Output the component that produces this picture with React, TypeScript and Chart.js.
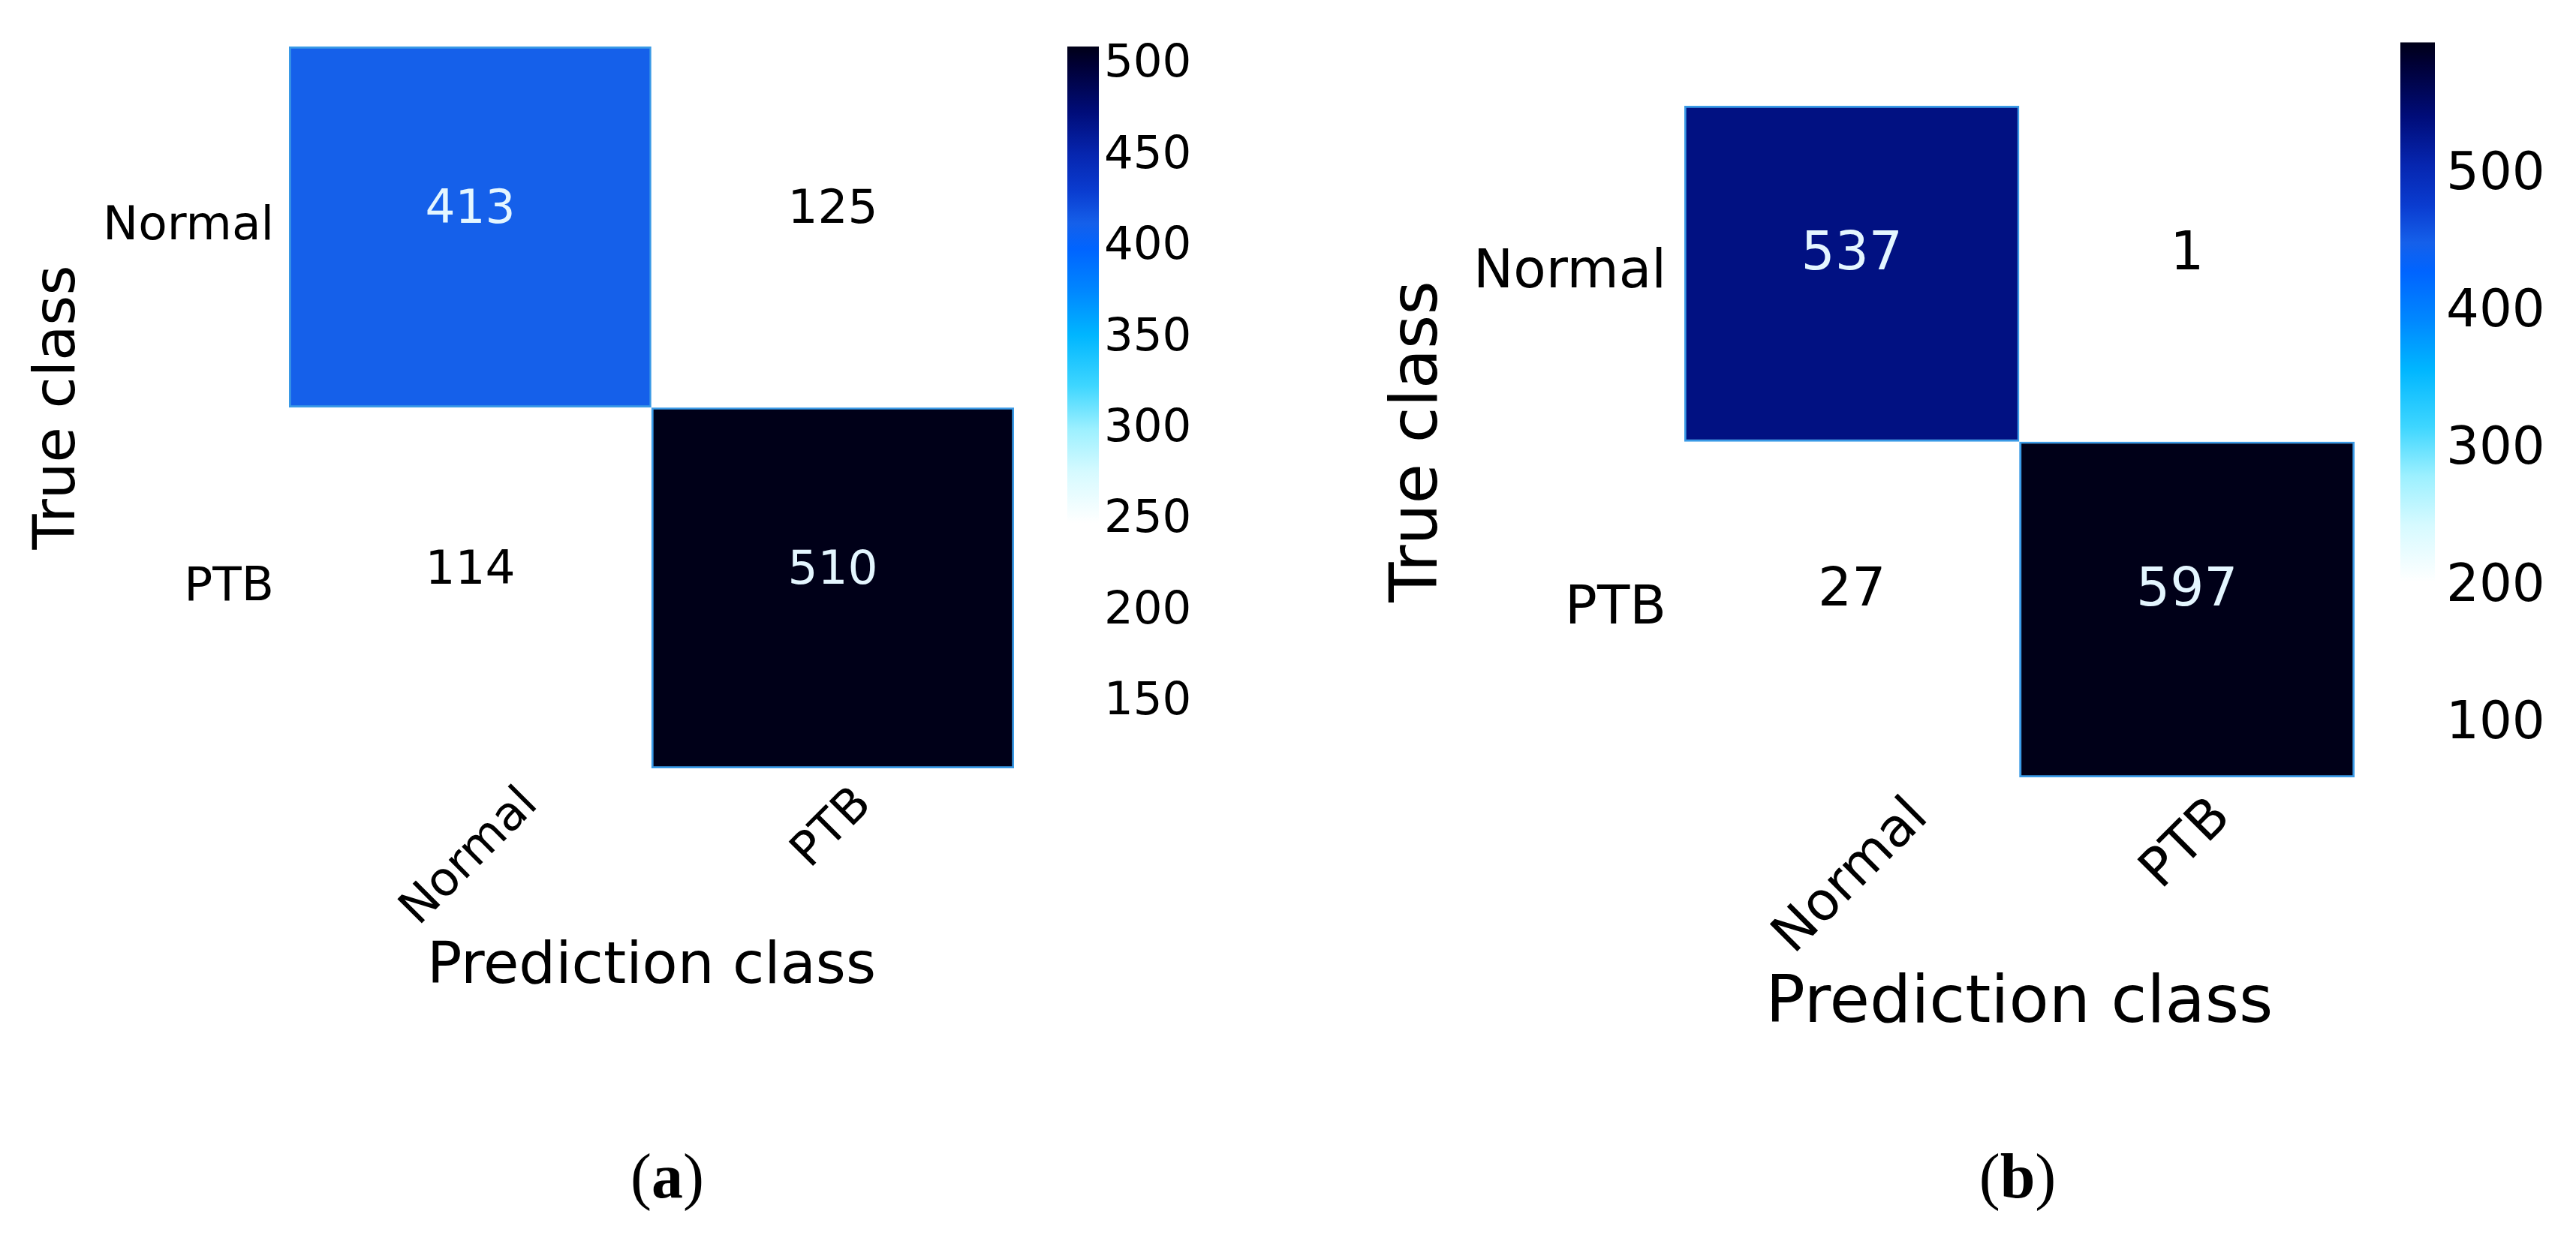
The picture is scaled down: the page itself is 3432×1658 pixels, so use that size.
import React, { useEffect, useRef } from 'react';
import { Chart, registerables } from 'chart.js';

Chart.register(...registerables);

const FONT = "'DejaVu Sans', 'Noto Sans', sans-serif";
Chart.defaults.font.family = FONT;
Chart.defaults.color = '#000';

// ---------- data ----------
const TRUE_LABELS = ['Normal', 'PTB'];
const PRED_LABELS = ['Normal', 'PTB'];
const MATRIX_A = [
  [413, 125],
  [114, 510],
];
const MATRIX_B = [
  [537, 1],
  [27, 597],
];
const RANGE_A = [114, 510];
const RANGE_B = [1, 597];
const CB_TICKS_A = [150, 200, 250, 300, 350, 400, 450, 500];
const CB_TICKS_B = [100, 200, 300, 400, 500];
const Y_TITLE = 'True class';
const X_TITLE = 'Prediction class';
const CAPTIONS = ['a', 'b'];

// colormap: white -> cyan -> blue -> navy -> near black
const CMAP_STOPS: [number, string][] = [
  [0.0, '#ffffff'],
  [0.34, '#ffffff'],
  [0.41, '#d6faff'],
  [0.47, '#9cf0ff'],
  [0.53, '#3ed6ff'],
  [0.6, '#00b6ff'],
  [0.66, '#0088ff'],
  [0.72, '#0064ff'],
  [0.755, '#1560ea'],
  [0.8, '#0a3cd0'],
  [0.85, '#0626b0'],
  [0.91, '#000c78'],
  [0.975, '#000034'],
  [1.0, '#000018'],
];

const EDGE_COLOR = '#3a9ae6';

// ---------- layout ----------
const LAYOUT_A = {
  canvas: { left: 0, top: 0, width: 1400, height: 1400 },
  plot: { left: 385, right: 1351, top: 62, bottom: 1024 },
  tickFont: 63,
  valueFont: 63,
  titleFont: 77,
  yTickPad: 20,
  yTitleX: 79,
  xTitleY: 1290,
  xTickGap: 22,
};
const LAYOUT_B = {
  canvas: { left: 1700, top: 0, width: 1600, height: 1450 },
  plot: { left: 2244, right: 3137, top: 141, bottom: 1036 },
  tickFont: 71,
  valueFont: 71,
  titleFont: 87,
  yTickPad: 24,
  yTitleX: 1891,
  xTitleY: 1339,
  xTickGap: 24,
};
const CB_LAYOUT_A = {
  canvas: { left: 1380, top: 0, width: 260, height: 1100 },
  bar: { left: 1422, right: 1464, top: 62, bottom: 1024 },
  font: 61,
  pad: 7,
};
const CB_LAYOUT_B = {
  canvas: { left: 3150, top: 0, width: 282, height: 1250 },
  bar: { left: 3198, right: 3244, top: 33, bottom: 1147 },
  font: 69,
  pad: 15,
};

// ---------- helpers ----------
function hexToRgb(h: string) {
  const n = parseInt(h.slice(1), 16);
  return [(n >> 16) & 255, (n >> 8) & 255, n & 255];
}
function cmap(f: number) {
  const t = Math.max(0, Math.min(1, f));
  for (let i = 1; i < CMAP_STOPS.length; i++) {
    const [f1, c1] = CMAP_STOPS[i];
    const [f0, c0] = CMAP_STOPS[i - 1];
    if (t <= f1) {
      const k = f1 === f0 ? 0 : (t - f0) / (f1 - f0);
      const a = hexToRgb(c0);
      const b = hexToRgb(c1);
      const r = a.map((v, j) => Math.round(v + (b[j] - v) * k));
      return `rgb(${r[0]},${r[1]},${r[2]})`;
    }
  }
  return CMAP_STOPS[CMAP_STOPS.length - 1][1];
}
function frac(v: number, range: number[]) {
  return (v - range[0]) / (range[1] - range[0]);
}

function makeMatrixConfig(matrix: number[][], range: number[], L: any): any {
  const c = L.canvas;
  const p = L.plot;
  const cellPlugin = {
    id: 'cellText',
    afterDraw(chart: any) {
      const { ctx, scales } = chart;
      const xs = scales.x;
      const ys = scales.y;
      ctx.save();
      ctx.textAlign = 'center';
      ctx.textBaseline = 'middle';
      ctx.font = `${L.valueFont}px ${FONT}`;
      matrix.forEach((row, r) => {
        row.forEach((v, ci) => {
          const px = xs.getPixelForValue(ci);
          const py = ys.getPixelForValue(r + 0.5) - L.valueFont * 0.34;
          ctx.fillStyle = frac(v, range) > 0.5 ? '#e4f6ff' : '#000000';
          ctx.fillText(String(v), px, py);
        });
      });
      // rotated x tick labels, centred on their column
      ctx.font = `${L.tickFont}px ${FONT}`;
      ctx.fillStyle = '#000';
      PRED_LABELS.forEach((lab, ci) => {
        const w = ctx.measureText(lab).width;
        const h = L.tickFont * 0.73;
        const bb = (w + h) * Math.SQRT1_2;
        const cx = xs.getPixelForValue(ci);
        const cy = chart.chartArea.bottom + L.xTickGap + bb / 2;
        ctx.save();
        ctx.translate(cx, cy);
        ctx.rotate(-Math.PI / 4);
        ctx.fillText(lab, 0, 0);
        ctx.restore();
      });
      ctx.restore();
    },
  };
  return {
    type: 'bar',
    data: {
      labels: PRED_LABELS,
      datasets: TRUE_LABELS.map((lab, r) => ({
        label: lab,
        data: PRED_LABELS.map(() => [r, r + 1]),
        backgroundColor: matrix[r].map((v) => cmap(frac(v, range))),
        borderColor: matrix[r].map((v) => (frac(v, range) > 0.4 ? EDGE_COLOR : 'rgba(0,0,0,0)')),
        borderWidth: matrix[r].map((v) => (frac(v, range) > 0.4 ? 3 : 0)),
        borderSkipped: false,
        grouped: false,
        barPercentage: 1,
        categoryPercentage: 1,
      })),
    },
    options: {
      responsive: false,
      animation: false,
      events: [],
      layout: {
        padding: {
          left: 0,
          top: p.top - c.top,
          right: c.width - (p.right - c.left),
          bottom: 0,
        },
      },
      plugins: { legend: { display: false }, tooltip: { enabled: false } },
      scales: {
        x: {
          type: 'category',
          offset: true,
          ticks: { display: false },
          grid: { display: false, drawTicks: false },
          border: { display: false },
          title: {
            display: true,
            text: X_TITLE,
            color: '#000',
            font: { size: L.titleFont, family: FONT },
            padding: { top: 0, bottom: c.top + c.height - L.xTitleY - L.titleFont * 0.6 },
          },
          afterFit: (s: any) => {
            s.height = c.top + c.height - p.bottom;
          },
        },
        y: {
          type: 'linear',
          min: 0,
          max: TRUE_LABELS.length,
          reverse: true,
          afterBuildTicks: (s: any) => {
            s.ticks = TRUE_LABELS.map((_, i) => ({ value: i + 0.5 }));
          },
          ticks: {
            callback: (_v: any, i: number) => TRUE_LABELS[i],
            font: { size: L.tickFont, family: FONT },
            color: '#000',
            padding: L.yTickPad,
          },
          grid: { display: false, drawTicks: false },
          border: { display: false },
          title: {
            display: true,
            text: Y_TITLE,
            color: '#000',
            font: { size: L.titleFont, family: FONT },
            padding: { top: L.yTitleX - c.left - L.titleFont * 0.6, bottom: 0 },
          },
          afterFit: (s: any) => {
            s.width = p.left - c.left;
          },
        },
      },
    },
    plugins: [cellPlugin],
  };
}

function makeColorbarConfig(range: number[], ticks: number[], L: any): any {
  const c = L.canvas;
  const b = L.bar;
  return {
    type: 'bar',
    data: {
      labels: [''],
      datasets: [
        {
          data: [[range[0], range[1]]],
          backgroundColor: (ctx: any) => {
            const chart = ctx.chart;
            if (!chart.chartArea) return '#ffffff';
            const ys = chart.scales.y;
            const g = chart.ctx.createLinearGradient(
              0,
              ys.getPixelForValue(range[0]),
              0,
              ys.getPixelForValue(range[1])
            );
            CMAP_STOPS.forEach(([f, col]) => g.addColorStop(f, col));
            return g;
          },
          borderWidth: 0,
          barPercentage: 1,
          categoryPercentage: 1,
        },
      ],
    },
    options: {
      responsive: false,
      animation: false,
      events: [],
      layout: {
        padding: {
          left: b.left - c.left,
          top: b.top - c.top,
          right: 0,
          bottom: c.top + c.height - b.bottom,
        },
      },
      plugins: { legend: { display: false }, tooltip: { enabled: false } },
      scales: {
        x: { display: false, offset: true },
        y: {
          type: 'linear',
          position: 'right',
          min: range[0],
          max: range[1],
          afterBuildTicks: (s: any) => {
            s.ticks = ticks.map((v) => ({ value: v }));
          },
          ticks: {
            font: { size: L.font, family: FONT },
            color: '#000',
            padding: L.pad,
          },
          grid: { display: false, drawTicks: false },
          border: { display: false },
          afterFit: (s: any) => {
            s.width = c.width - (b.right - c.left);
          },
        },
      },
    },
  };
}

function ChartCanvas({ make, box }: { make: () => any; box: any }) {
  const ref = useRef<HTMLCanvasElement>(null);
  useEffect(() => {
    const chart = new Chart(ref.current as HTMLCanvasElement, make());
    return () => chart.destroy();
  }, []);
  return (
    <canvas
      ref={ref}
      width={box.width}
      height={box.height}
      style={{
        position: 'absolute',
        left: box.left,
        top: box.top,
        width: box.width,
        height: box.height,
        display: 'block',
      }}
    />
  );
}

function Caption({ letter, cx }: { letter: string; cx: number }) {
  return (
    <div
      style={{
        position: 'absolute',
        left: cx - 150,
        top: 1526,
        width: 300,
        textAlign: 'center',
        fontFamily: "'Liberation Serif', 'DejaVu Serif', serif",
        fontSize: 84,
        lineHeight: '84px',
        color: '#000',
      }}
    >
      (<b>{letter}</b>)
    </div>
  );
}

export default function App() {
  return (
    <div
      style={{
        position: 'fixed',
        left: 0,
        top: 0,
        width: 3432,
        height: 1658,
        background: '#ffffff',
        overflow: 'hidden',
      }}
    >
      <ChartCanvas make={() => makeMatrixConfig(MATRIX_A, RANGE_A, LAYOUT_A)} box={LAYOUT_A.canvas} />
      <ChartCanvas make={() => makeColorbarConfig(RANGE_A, CB_TICKS_A, CB_LAYOUT_A)} box={CB_LAYOUT_A.canvas} />
      <ChartCanvas make={() => makeMatrixConfig(MATRIX_B, RANGE_B, LAYOUT_B)} box={LAYOUT_B.canvas} />
      <ChartCanvas make={() => makeColorbarConfig(RANGE_B, CB_TICKS_B, CB_LAYOUT_B)} box={CB_LAYOUT_B.canvas} />
      <Caption letter={CAPTIONS[0]} cx={889} />
      <Caption letter={CAPTIONS[1]} cx={2688} />
    </div>
  );
}
